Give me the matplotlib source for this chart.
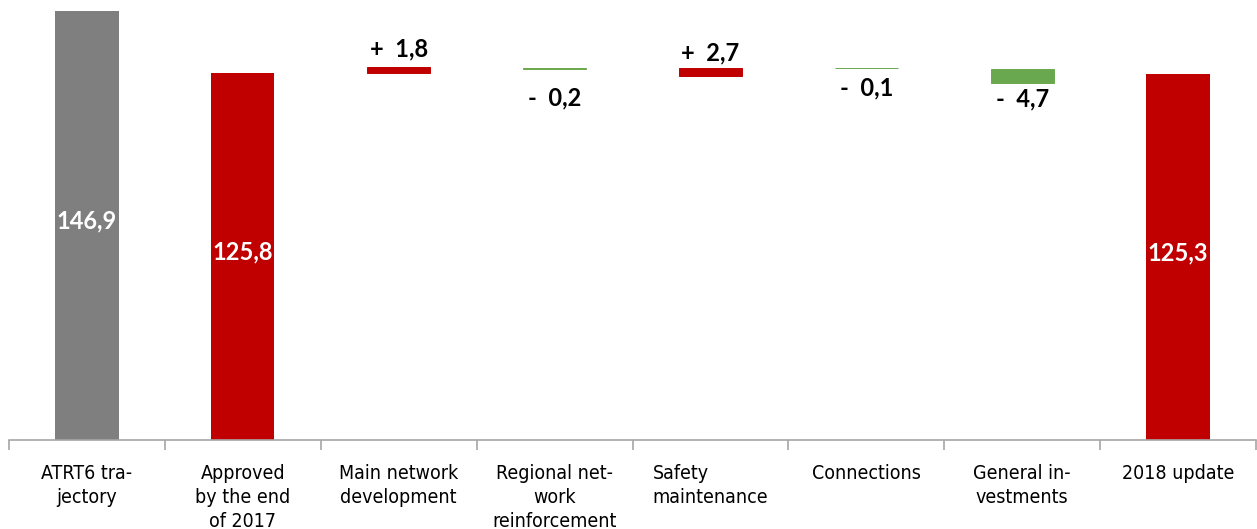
import matplotlib
matplotlib.use("Agg")
import matplotlib.pyplot as plt
import numpy as np

# Investment trajectory bridge (values in M€)
categories = [
    "ATRT6 tra-\njectory",
    "Approved\nby the end\nof 2017",
    "Main network\ndevelopment",
    "Regional net-\nwork\nreinforcement",
    "Safety\nmaintenance",
    "Connections",
    "General in-\nvestments",
    "2018 update",
]
values = [146.9, 125.8, 1.8, -0.2, 2.7, -0.1, -4.7, 125.3]
bar_bottoms = [0.0, 0.0, 125.8, 127.2, 124.8, 127.25, 122.3, 0.0]
kinds = ["base", "total", "delta", "delta", "delta", "delta", "delta", "total"]

GRAY = "#7f7f7f"
RED = "#c00000"
GREEN = "#6aa84f"

def fmt(v):
    return f"{abs(v):.1f}".replace(".", ",")

fig = plt.figure(figsize=(12.57, 5.29), dpi=100)
W, H = 1257, 529
base_px = 440
px_per_unit = (440 - 11) / 146.9
ymax = 150
ax = fig.add_axes([9 / W, (H - base_px) / H, (1256 - 9) / W, ymax * px_per_unit / H])

x = np.arange(len(categories))
colors = []
heights = []
for v, k in zip(values, kinds):
    if k == "base":
        colors.append(GRAY)
    elif k == "total":
        colors.append(RED)
    else:
        colors.append(RED if v > 0 else GREEN)
    heights.append(abs(v))

bars = ax.bar(x, heights, bottom=bar_bottoms, width=0.405, color=colors, linewidth=0)
# keep very small deltas visible as a hairline
for b, k, c in zip(bars, kinds, colors):
    if k == "delta":
        b.set_edgecolor(c)
        b.set_linewidth(0.7)

# label offsets (points) for the delta labels
delta_offsets = {2: 5, 3: -13, 4: 2, 5: -6, 6: -3}
value_font = dict(fontsize=17, fontweight="bold", family="Lato")

for i, (b, v, k) in enumerate(zip(bars, values, kinds)):
    cx = b.get_x() + b.get_width() / 2
    if k in ("base", "total"):
        ax.text(cx, v / 2 + 1.5, fmt(v), ha="center", va="center", color="white", **value_font)
    else:
        sign = "+" if v > 0 else "-"
        top = b.get_y() + b.get_height()
        bot = b.get_y()
        if v > 0:
            ax.annotate(f"{sign}  {fmt(v)}", (cx, top), xytext=(0, delta_offsets[i]),
                        textcoords="offset points", ha="center", va="bottom",
                        color="black", **value_font)
        else:
            ax.annotate(f"{sign}  {fmt(v)}", (cx, bot), xytext=(0, delta_offsets[i]),
                        textcoords="offset points", ha="center", va="top",
                        color="black", **value_font)

ax.set_xlim(-0.5, len(categories) - 0.5)
ax.set_ylim(0, ymax)

for s in ("top", "right", "left"):
    ax.spines[s].set_visible(False)
ax.spines["bottom"].set_color("#a6a6a6")
ax.spines["bottom"].set_linewidth(1.2)
ax.set_yticks([])

ax.set_xticks(x)
labels = ax.set_xticklabels(categories, fontsize=14, family="DejaVu Sans", fontstretch="condensed",
                            linespacing=1.35, va="top")
labels[4].set_multialignment("left")
ax.tick_params(axis="x", which="major", length=0, pad=17)
ax.set_xticks(np.arange(-0.5, len(categories)), minor=True)
ax.tick_params(axis="x", which="minor", length=7, width=1.2, color="#a6a6a6", direction="out")

fig.savefig("out.png", dpi=100, facecolor="white")
